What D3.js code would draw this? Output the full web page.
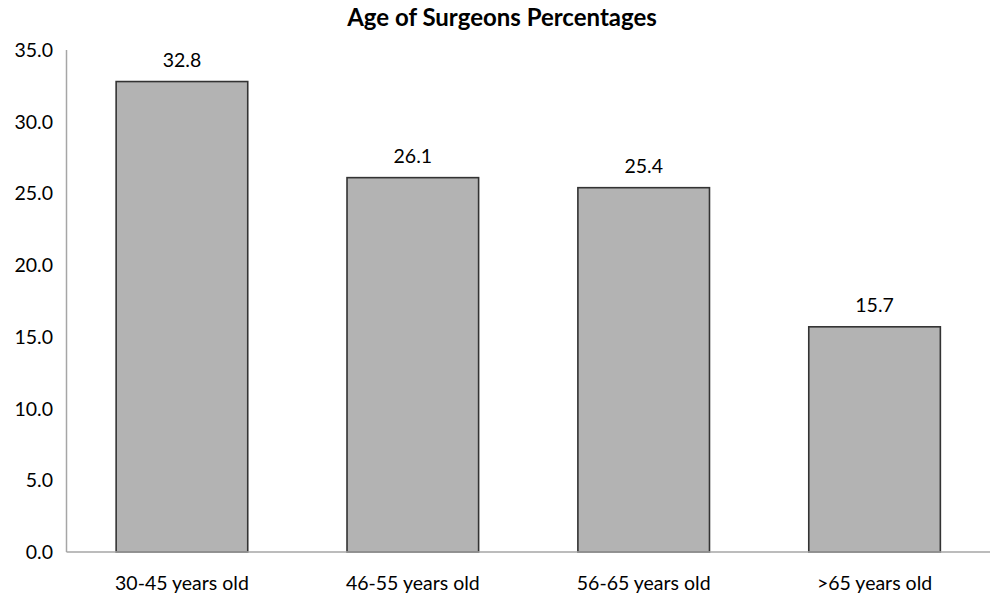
<!DOCTYPE html>
<html><head><meta charset="utf-8">
<script src="https://cdn.jsdelivr.net/npm/d3@7"></script>
<style>body{margin:0;background:#fff}text{font-family:Lato,"Open Sans",sans-serif}</style>
</head><body><svg id="c" width="990" height="596"></svg>
<script>
const categories = ["30-45 years old","46-55 years old","56-65 years old",">65 years old"];
const values = [32.8, 26.1, 25.4, 15.7];
const yTicks = [0,5,10,15,20,25,30,35];
const title = "Age of Surgeons Percentages";

const svg = d3.select("#c");
const m = {left:66.5, right:0, top:50, bottom:552};
const x = d3.scaleBand().domain(categories).range([m.left, 990]).paddingInner(0.43).paddingOuter(0.215);
const y = d3.scaleLinear().domain([0,35]).range([552, 50]);

svg.append("text").attr("x", 502).attr("y", 26).attr("text-anchor","middle")
  .style("font-size","24px").style("font-weight","bold").attr("fill","#000").text(title);

// y axis labels
svg.selectAll(".yl").data(yTicks).join("text")
  .attr("x", 53).attr("y", d => y(d)+7).attr("text-anchor","end")
  .style("font-size","19.5px").attr("fill","#000").text(d => d.toFixed(1));

// bars
svg.selectAll(".bar").data(values).join("rect")
  .attr("x", (d,i) => x(categories[i])).attr("width", x.bandwidth())
  .attr("y", d => y(d)).attr("height", d => y(0)-y(d))
  .attr("fill","#b3b3b3").attr("stroke","#333").attr("stroke-width",1.6);

// value labels
svg.selectAll(".vl").data(values).join("text")
  .attr("x", (d,i) => x(categories[i]) + x.bandwidth()/2).attr("y", d => y(d)-15)
  .attr("text-anchor","middle").style("font-size","19.5px").attr("fill","#000").text(d => d.toFixed(1));

// axes lines
svg.append("line").attr("x1", m.left).attr("x2", m.left).attr("y1", y(35)).attr("y2", y(0)).attr("stroke","#a6a6a6").attr("stroke-width",1.5);
svg.append("line").attr("x1", m.left).attr("x2", 990).attr("y1", y(0)).attr("y2", y(0)).attr("stroke","#a6a6a6").attr("stroke-width",1.5);

// x labels
svg.selectAll(".xl").data(categories).join("text")
  .attr("x", d => x(d) + x.bandwidth()/2).attr("y", 590)
  .attr("text-anchor","middle").style("font-size","19.5px").attr("fill","#000").text(d => d);
</script></body></html>
